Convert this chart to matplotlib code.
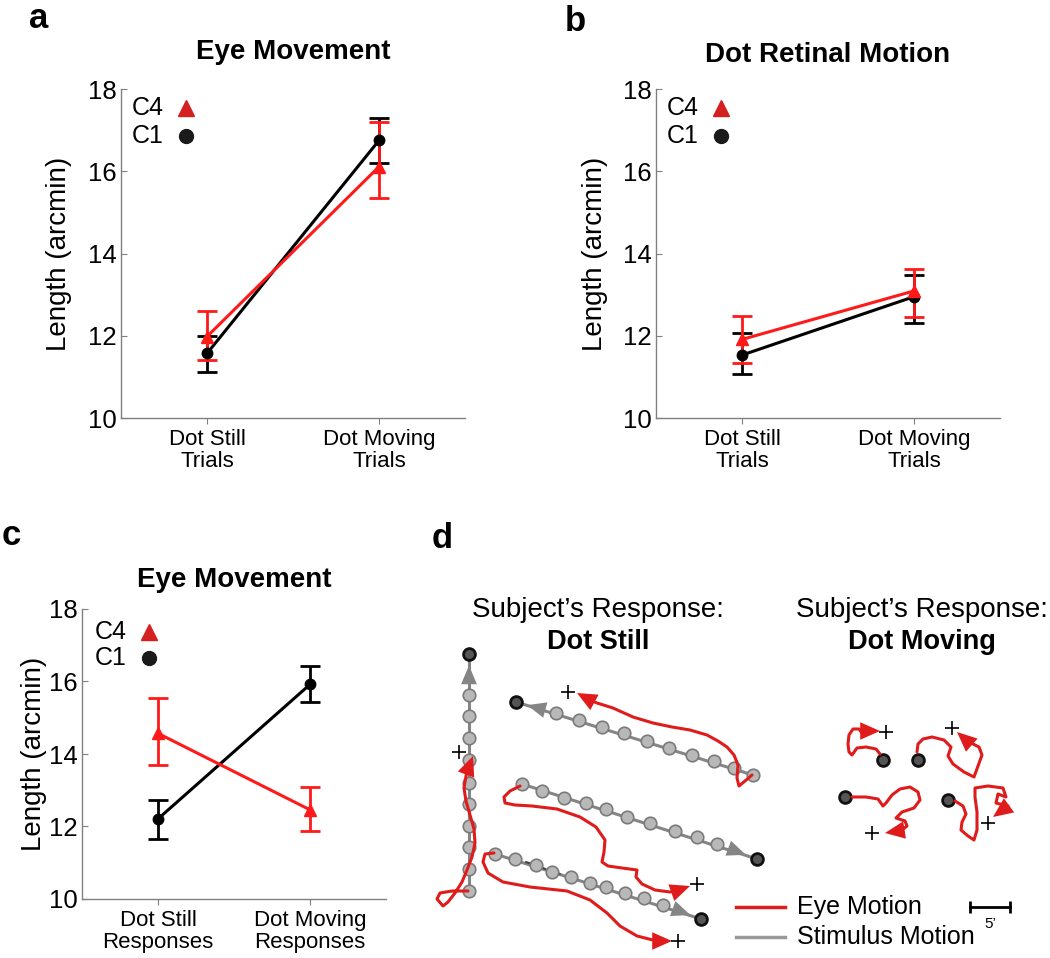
import numpy as np
import matplotlib
matplotlib.use('Agg')
import matplotlib.pyplot as plt

plt.rcParams['font.family'] = ['Liberation Sans', 'DejaVu Sans']

# ---- data for panels a-c (mean, lower and upper end of error bar) ----
trial_labels = ['Dot Still\nTrials', 'Dot Moving\nTrials']
response_labels = ['Dot Still\nResponses', 'Dot Moving\nResponses']

a_c1_mean = [11.57, 16.75]
a_c1_low = [11.11, 16.21]
a_c1_high = [12.00, 17.29]
a_c4_mean = [11.98, 16.11]
a_c4_low = [11.41, 15.34]
a_c4_high = [12.60, 17.19]

b_c1_mean = [11.53, 12.95]
b_c1_low = [11.08, 12.32]
b_c1_high = [12.06, 13.48]
b_c4_mean = [11.91, 13.09]
b_c4_low = [11.33, 12.46]
b_c4_high = [12.48, 13.63]

c_c1_mean = [12.21, 15.92]
c_c1_low = [11.65, 15.43]
c_c1_high = [12.73, 16.44]
c_c4_mean = [14.57, 12.46]
c_c4_low = [13.71, 11.88]
c_c4_high = [15.55, 13.08]

# ---- panel d sketch (illustration coordinates) ----
stim_v_x = [469, 469, 469, 469, 469, 469, 469, 469, 469, 469]
stim_v_y = [891, 869, 847, 826, 804, 783, 760, 738, 716, 695]
stim_up_x = [753, 734, 714, 692, 669, 647, 624, 602, 579, 556]
stim_up_y = [775, 768, 761, 755, 748, 741, 733, 727, 720, 713]
stim_mid_x = [522, 542, 564, 586, 606, 627, 650, 675, 697, 717]
stim_mid_y = [784, 791, 798, 803, 809, 817, 823, 831, 837, 844]
stim_low_x = [495, 515, 536, 552, 571, 590, 606, 625, 644, 663]
stim_low_y = [854, 859, 865, 872, 877, 883, 887, 893, 898, 905]
stim_end_x = [469, 516, 757, 701]
stim_end_y = [654, 702, 859, 919]

eye_v_x = [468, 452, 440, 437, 443, 448, 455, 462, 467, 472, 475, 474, 470, 466, 464, 466, 468, 470]
eye_v_y = [891, 891, 893, 899, 906, 902, 893, 882, 870, 857, 843, 829, 815, 801, 788, 776, 768, 764]
eye_up_x = [752, 745, 739, 737, 738, 734, 727, 718, 707, 690, 672, 653, 633, 613, 597, 590]
eye_up_y = [775, 781, 786, 778, 765, 755, 747, 741, 735, 730, 727, 723, 717, 708, 703, 700]
eye_mid_x = [520, 510, 504, 505, 515, 532, 557, 580, 596, 605, 604, 602, 608, 622, 637, 636, 642, 655, 670, 676]
eye_mid_y = [786, 791, 797, 803, 805, 806, 809, 817, 827, 840, 852, 862, 866, 868, 870, 877, 884, 890, 892, 891]
eye_low_x = [494, 485, 483, 488, 503, 530, 567, 590, 607, 620, 637, 653, 658]
eye_low_y = [853, 854, 862, 873, 882, 887, 891, 900, 913, 926, 936, 940, 941]

move_dot_x = [883, 918, 845, 948]
move_dot_y = [760, 760, 797, 800]
eye_ma_x = [880, 876, 866, 857, 852, 849, 848, 849, 853, 859, 862, 866]
eye_ma_y = [754, 749, 747, 748, 755, 752, 744, 735, 729, 729, 733, 731]
eye_mb_x = [917, 918, 923, 932, 944, 951, 948, 953, 964, 974, 978, 982, 979, 971, 966]
eye_mb_y = [752, 744, 739, 737, 740, 747, 756, 764, 772, 777, 766, 755, 747, 743, 740]
eye_mc_x = [852, 866, 878, 883, 886, 892, 900, 910, 918, 920, 914, 902, 896, 905, 907, 902, 898]
eye_mc_y = [797, 797, 799, 806, 803, 795, 789, 787, 792, 800, 808, 812, 818, 821, 826, 830, 831]
eye_md_x = [955, 963, 966, 962, 961, 968, 974, 977, 977, 975, 975, 988, 1003, 1006, 998, 996, 1008, 1004]
eye_md_y = [801, 806, 814, 822, 830, 836, 840, 830, 812, 797, 788, 786, 788, 797, 794, 803, 806, 809]

eye_tip_x = [473, 577, 690, 672, 880, 957, 885, 993]
eye_tip_y = [756, 693, 886, 941, 731, 732, 833, 817]
plus_x = [459, 568, 697, 678, 886, 952, 872, 988]
plus_y = [752, 692, 884, 941, 732, 728, 833, 823]

W, H = 1050, 958
fig = plt.figure(figsize=(W / 100, H / 100), dpi=100)

red = '#ff1a1a'
eye_red = '#e01b1b'


def draw_panel(rect, labels, c1, c4, title, title_pad, label_x, leg):
    ax = fig.add_axes([rect[0] / W, 1 - rect[3] / H, (rect[2] - rect[0]) / W, (rect[3] - rect[1]) / H])
    x = np.arange(1, 3)
    for (mean, low, high), color, marker, ms in [(c1, 'black', 'o', 7.5), (c4, red, '^', 8.5)]:
        mean = np.array(mean)
        yerr = [mean - np.array(low), np.array(high) - mean]
        ax.errorbar(x, mean, yerr=yerr, color=color, marker=marker, ms=ms, lw=2.2,
                    elinewidth=2, capsize=7, capthick=2, clip_on=False)
    ax.set_xlim(0.5, 2.5)
    ax.set_ylim(10, 18)
    ax.set_yticks([10, 12, 14, 16, 18])
    ax.set_xticks(x)
    ax.set_xticklabels(labels, fontsize=16, linespacing=1.05)
    ax.tick_params(axis='y', labelsize=18.5, direction='in', length=4, width=0.8, color='#808080', pad=3)
    ax.tick_params(axis='x', direction='out', length=4, width=0.8, color='#808080', pad=4)
    for s in ['top', 'right']:
        ax.spines[s].set_visible(False)
    for s in ['left', 'bottom']:
        ax.spines[s].set_color('#808080')
        ax.spines[s].set_linewidth(1)
    ax.set_ylabel('Length (arcmin)', fontsize=20)
    ax.yaxis.set_label_coords(label_x, 0.5)
    ax.set_title(title, fontsize=20, fontweight='bold', pad=title_pad)
    # in-axes legend
    tx, mx, y4, y1 = leg
    ax.text(tx, y4, 'C4', transform=ax.transAxes, fontsize=18, va='center', ha='left')
    ax.text(tx, y1, 'C1', transform=ax.transAxes, fontsize=18, va='center', ha='left')
    ax.plot(mx, y4, marker='^', color='#d42020', ms=11, transform=ax.transAxes, clip_on=False)
    ax.plot(mx, y1, marker='o', color='#1a1a1a', ms=10, transform=ax.transAxes, clip_on=False)
    return ax


draw_panel((121, 89, 465, 418), trial_labels, (a_c1_mean, a_c1_low, a_c1_high),
           (a_c4_mean, a_c4_low, a_c4_high), 'Eye Movement', 21.5, -0.142,
           (0.032, 0.189, 0.942, 0.857))
draw_panel((656, 89, 1000, 418), trial_labels, (b_c1_mean, b_c1_low, b_c1_high),
           (b_c4_mean, b_c4_low, b_c4_high), 'Dot Retinal Motion', 19.5, -0.14,
           (0.032, 0.189, 0.942, 0.857))
draw_panel((82, 609, 386, 899), response_labels, (c_c1_mean, c_c1_low, c_c1_high),
           (c_c4_mean, c_c4_low, c_c4_high), 'Eye Movement', 16, -0.115,
           (0.043, 0.22, 0.921, 0.831))

# panel letters
for letter, px, py in [('a', 29, 28), ('b', 565, 31), ('c', 2, 545), ('d', 432, 548)]:
    fig.text(px / W, 1 - py / H, letter, fontsize=25, fontweight='bold', va='baseline', ha='left')

# ---- panel d ----
axd = fig.add_axes([420 / W, 0, 630 / W, 438 / H])
axd.set_xlim(420, 1050)
axd.set_ylim(958, 520)
axd.axis('off')

grey = '#858585'
light_kw = dict(ls='none', marker='o', ms=9, mfc='#b8b8b8', mec='#7a7a7a', mew=1.2, zorder=3)
dark_kw = dict(ls='none', marker='o', ms=8.5, mfc='#555555', mec='#111111', mew=2, zorder=4)

stims = [(stim_v_x, stim_v_y), (stim_up_x, stim_up_y), (stim_mid_x, stim_mid_y), (stim_low_x, stim_low_y)]
for i, (sx, sy) in enumerate(stims):
    ex, ey = stim_end_x[i], stim_end_y[i]
    axd.plot([sx[0], ex], [sy[0], ey], color=grey, lw=2.2, zorder=2)
    axd.plot(sx, sy, **light_kw)
    # arrow head between last stimulus dot and final dot
    tx = sx[-1] + 0.72 * (ex - sx[-1])
    ty = sy[-1] + 0.72 * (ey - sy[-1])
    bx = sx[-1] + 0.15 * (ex - sx[-1])
    by = sy[-1] + 0.15 * (ey - sy[-1])
    axd.annotate('', xy=(tx, ty), xytext=(bx, by),
                 arrowprops=dict(arrowstyle='-|>,head_length=0.9,head_width=0.38', color=grey,
                                 lw=0, shrinkA=0, shrinkB=0, mutation_scale=15), zorder=3)
# darker dashes on the first part of the lowest trial
axd.plot(stim_low_x[:5], stim_low_y[:5], color='#4a4a4a', lw=1.6, dashes=(3, 4), zorder=2.5)
axd.plot(stim_end_x, stim_end_y, **dark_kw)
axd.plot(move_dot_x, move_dot_y, **dark_kw)

eyes = [(eye_v_x, eye_v_y), (eye_up_x, eye_up_y), (eye_mid_x, eye_mid_y), (eye_low_x, eye_low_y),
        (eye_ma_x, eye_ma_y), (eye_mb_x, eye_mb_y), (eye_mc_x, eye_mc_y), (eye_md_x, eye_md_y)]
for i, (ex, ey) in enumerate(eyes):
    axd.plot(ex, ey, color=eye_red, lw=2.2, solid_capstyle='round', solid_joinstyle='round', zorder=5)
    # arrow head aimed along the last stretch of the trace
    dx, dy = eye_tip_x[i] - ex[-1], eye_tip_y[i] - ey[-1]
    norm = np.hypot(dx, dy)
    axd.annotate('', xy=(eye_tip_x[i], eye_tip_y[i]),
                 xytext=(eye_tip_x[i] - 20 * dx / norm, eye_tip_y[i] - 20 * dy / norm),
                 arrowprops=dict(arrowstyle='-|>,head_length=0.95,head_width=0.42', color=eye_red,
                                 lw=0, shrinkA=0, shrinkB=0, mutation_scale=15), zorder=6)
axd.plot(plus_x, plus_y, ls='none', marker='+', ms=10, mew=1.2, color='black', zorder=7)

# titles of the sketch
axd.text(598, 610, 'Subject\u2019s Response:', fontsize=20, ha='center', va='center')
axd.text(598, 642, 'Dot Still', fontsize=19.5, fontweight='bold', ha='center', va='center')
axd.text(922, 610, 'Subject\u2019s Response:', fontsize=20, ha='center', va='center')
axd.text(922, 642, 'Dot Moving', fontsize=19.5, fontweight='bold', ha='center', va='center')

# legend and scale bar
axd.plot([736, 785], [907, 907], color=eye_red, lw=2.5)
axd.plot([736, 785], [937, 937], color='#999999', lw=2.5)
axd.text(797, 907, 'Eye Motion', fontsize=18, ha='left', va='center')
axd.text(797, 937, 'Stimulus Motion', fontsize=18, ha='left', va='center')
axd.plot([970, 1010], [907, 907], color='black', lw=2, marker='|', ms=8, mew=2)
axd.text(990, 924, '5\u2019', fontsize=11, ha='center', va='center')

fig.savefig('out.png', dpi=100)
